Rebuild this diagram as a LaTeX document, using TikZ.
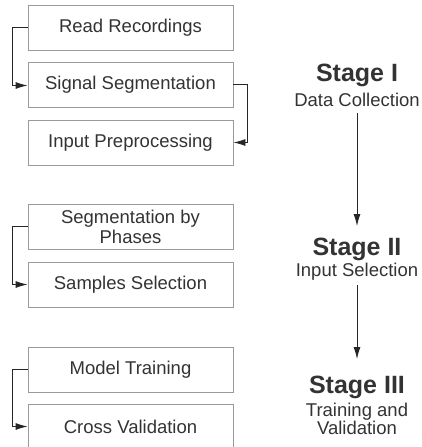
\documentclass[tikz,border=0pt]{standalone}
\usepackage{fontspec}
\setmainfont{Liberation Sans}
\usetikzlibrary{arrows.meta}
\definecolor{txt}{HTML}{333333}
\definecolor{boxc}{HTML}{9A9A9A}
\begin{document}
\begin{tikzpicture}[
  stepbox/.style={draw=boxc,line width=0.9pt,minimum width=205pt,minimum height=45pt,inner sep=0pt,
    text=txt,font=\fontsize{18.5}{20}\selectfont,align=center},
  conn/.style={draw=black!85,line width=0.9pt,-{Latex[length=12pt,width=7pt]}},
  stagetitle/.style={text=txt,font=\bfseries\fontsize{25}{28}\selectfont,inner sep=0pt},
  stagesub/.style={text=txt,font=\fontsize{18.5}{18.5}\selectfont,align=center,inner sep=0pt}]
\path[use as bounding box,fill=white] (0pt,0pt) rectangle (422pt,-447pt);
% boxes (centres)
\node[stepbox] (rr) at (130.5pt,-27.5pt) {Read Recordings};
\node[stepbox] (ss) at (130.5pt,-84.5pt) {Signal Segmentation};
\node[stepbox] (ip) at (130.5pt,-142.5pt) {Input Preprocessing};
\node[stepbox] (sp) at (130.5pt,-226.5pt) {Segmentation by\\Phases};
\node[stepbox] (sa) at (130.5pt,-284.5pt) {Samples Selection};
\node[stepbox] (mt) at (130.5pt,-369.5pt) {Model Training};
\node[stepbox] (cv) at (130.5pt,-426.5pt) {Cross Validation};
% connectors
\draw[conn] (rr.west) -- ++(-15pt,0pt) |- ([yshift=-1pt]ss.west);
\draw[conn] (ss.east) -- ++(14pt,0pt) |- (ip.east);
\draw[conn] (sp.west) -- ++(-15pt,0pt) |- (sa.west);
\draw[conn] (mt.west) -- ++(-15pt,0pt) |- (cv.west);
% stages
\node[stagetitle] (s1) at (357pt,-75pt) {Stage I};
\node[stagesub] (d1) at (357pt,-100pt) {Data Collection};
\node[stagetitle] (s2) at (357pt,-249pt) {Stage II};
\node[stagesub] (d2) at (357pt,-272pt) {Input Selection};
\node[stagetitle] (s3) at (357pt,-387pt) {Stage III};
\node[stagesub] (d3) at (357pt,-419pt) {Training and\\Validation};
\coordinate (a1) at (357pt,-113pt);
\coordinate (b1) at (357pt,-226pt);
\coordinate (a2) at (357pt,-285pt);
\coordinate (b2) at (357pt,-359pt);
\draw[conn] (a1) -- (b1);
\draw[conn] (a2) -- (b2);
\end{tikzpicture}
\end{document}
